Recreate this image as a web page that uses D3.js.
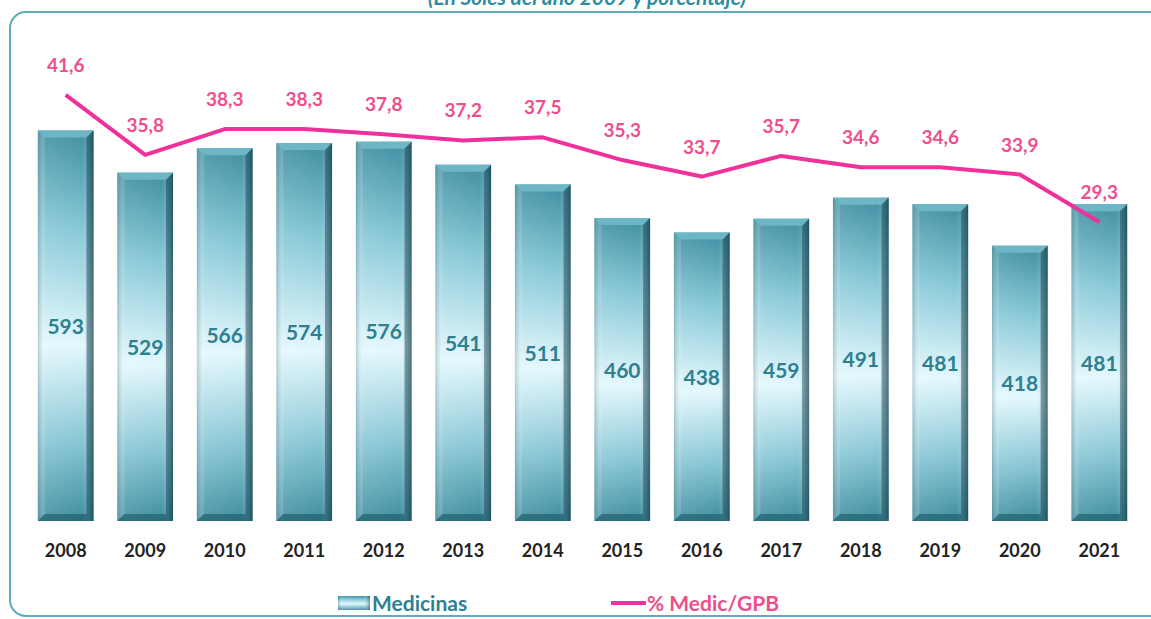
<!DOCTYPE html>
<html>
<head>
<meta charset="utf-8">
<script src="https://cdn.jsdelivr.net/npm/d3@7"></script>
<style>
  body { margin: 0; background: #fff; }
  svg { display: block; }
  .lbl { font-family: Lato, "Open Sans", sans-serif; font-weight: bold; }
</style>
</head>
<body>
<div id="chart"></div>
<script>
"use strict";

// Chart data
const years = ["2008", "2009", "2010", "2011", "2012", "2013", "2014", "2015", "2016", "2017", "2018", "2019", "2020", "2021"];
const medicinas = [593, 529, 566, 574, 576, 541, 511, 460, 438, 459, 491, 481, 418, 481];
const pctMedicGpb = [41.6, 35.8, 38.3, 38.3, 37.8, 37.2, 37.5, 35.3, 33.7, 35.7, 34.6, 34.6, 33.9, 29.3];
const titleText = "(En Soles del año 2009 y porcentaje)";
const legendLabels = ["Medicinas", "% Medic/GPB"];

const width = 1151, height = 619;
const teal = "#2f7f90", pink = "#f0319b", pinkText = "#ee4f8c";

const svg = d3.select("#chart").append("svg")
    .attr("width", width)
    .attr("height", height);

const defs = svg.append("defs");

// vertical gradient for the bar body
const grad = defs.append("linearGradient")
    .attr("id", "barGrad")
    .attr("x1", 0).attr("y1", 0).attr("x2", 0).attr("y2", 1);
grad.append("stop").attr("offset", "0%").attr("stop-color", "#3f8fa1");
grad.append("stop").attr("offset", "25%").attr("stop-color", "#86c8d7");
grad.append("stop").attr("offset", "55%").attr("stop-color", "#e3f8fd");
grad.append("stop").attr("offset", "80%").attr("stop-color", "#86c5d4");
grad.append("stop").attr("offset", "100%").attr("stop-color", "#3f8e9f");

// horizontal shading so the sides look rounded
const side = defs.append("linearGradient")
    .attr("id", "sideGrad")
    .attr("x1", 0).attr("y1", 0).attr("x2", 1).attr("y2", 0);
side.append("stop").attr("offset", "0%").attr("stop-color", "#1d5563").attr("stop-opacity", 0.3);
side.append("stop").attr("offset", "12%").attr("stop-color", "#ffffff").attr("stop-opacity", 0.1);
side.append("stop").attr("offset", "80%").attr("stop-color", "#ffffff").attr("stop-opacity", 0);
side.append("stop").attr("offset", "100%").attr("stop-color", "#0f3b46").attr("stop-opacity", 0.5);

// frame around the plot
svg.append("rect")
    .attr("x", 10).attr("y", 12)
    .attr("width", 1170).attr("height", 604)
    .attr("rx", 16)
    .attr("fill", "#fff")
    .attr("stroke", "#5eabbb")
    .attr("stroke-width", 2);

// title (partly cut off at top, as in the source)
svg.append("text")
    .attr("x", 587).attr("y", 5)
    .attr("text-anchor", "middle")
    .attr("font-family", "Lato, 'Open Sans', sans-serif")
    .attr("font-style", "italic")
    .attr("font-weight", "bold")
    .attr("font-size", 21)
    .attr("fill", "#2f8ca1")
    .text(titleText);

// scales
const x = d3.scaleBand()
    .domain(years)
    .range([14, 1151])
    .padding(0.3);

const y = d3.scaleLinear()
    .domain([0, 650])
    .range([521, 93]);

const y2 = d3.scaleLinear()
    .domain([0, 50])
    .range([524.7, 8.2]);

// bars
const bev = 7;
const bars = svg.append("g").selectAll("g")
    .data(years)
    .join("g")
    .attr("transform", (d, i) => "translate(" + x(d) + "," + y(medicinas[i]) + ")");

bars.each(function (d, i) {
    const g = d3.select(this);
    const w = x.bandwidth();
    const h = y(0) - y(medicinas[i]);
    g.append("rect").attr("width", w).attr("height", h).attr("fill", "url(#barGrad)");
    g.append("rect").attr("width", w).attr("height", h).attr("fill", "url(#sideGrad)");
    // bevel: top
    g.append("polygon")
        .attr("points", [[0, 0], [w, 0], [w - bev, bev], [bev, bev]].join(" "))
        .attr("fill", "#6cb6c6");
    // bevel: left
    g.append("polygon")
        .attr("points", [[0, 0], [bev, bev], [bev, h - bev], [0, h]].join(" "))
        .attr("fill", "#ffffff").attr("fill-opacity", 0.15);
    // bevel: right
    g.append("polygon")
        .attr("points", [[w, 0], [w, h], [w - bev, h - bev], [w - bev, bev]].join(" "))
        .attr("fill", "#103f4b").attr("fill-opacity", 0.45);
    // bevel: bottom
    g.append("polygon")
        .attr("points", [[0, h], [w, h], [w - bev, h - bev], [bev, h - bev]].join(" "))
        .attr("fill", "#1b5664").attr("fill-opacity", 0.6);
});

// bar value labels in the middle of each bar
svg.append("g").selectAll("text")
    .data(years)
    .join("text")
    .attr("class", "lbl")
    .attr("x", (d) => x(d) + x.bandwidth() / 2)
    .attr("y", (d, i) => (y(medicinas[i]) + y(0)) / 2 + 8)
    .attr("text-anchor", "middle")
    .attr("font-size", 21)
    .attr("fill", teal)
    .text((d, i) => medicinas[i]);

// x axis labels
const xAxis = svg.append("g")
    .attr("transform", "translate(0,544)")
    .call(d3.axisBottom(x).tickSize(0).tickPadding(0));
xAxis.select(".domain").remove();
xAxis.selectAll("text")
    .attr("class", "lbl")
    .attr("font-size", 18)
    .attr("fill", "#222");

// percentage line
const line = d3.line()
    .x((d, i) => x(years[i]) + x.bandwidth() / 2)
    .y((d) => y2(d));

svg.append("path")
    .datum(pctMedicGpb)
    .attr("fill", "none")
    .attr("stroke", pink)
    .attr("stroke-width", 4)
    .attr("stroke-linejoin", "round")
    .attr("d", line);

// line value labels
svg.append("g").selectAll("text")
    .data(pctMedicGpb)
    .join("text")
    .attr("class", "lbl")
    .attr("x", (d, i) => x(years[i]) + x.bandwidth() / 2)
    .attr("y", (d) => y2(d) - 23)
    .attr("text-anchor", "middle")
    .attr("font-size", 19)
    .attr("font-weight", 500)
    .attr("fill", pinkText)
    .text((d) => d.toFixed(1).replace(".", ","));

// legend
const leg = svg.append("g");
leg.append("rect")
    .attr("x", 338).attr("y", 596)
    .attr("width", 32).attr("height", 14)
    .attr("fill", "url(#barGrad)");
leg.append("rect")
    .attr("x", 338).attr("y", 596)
    .attr("width", 32).attr("height", 14)
    .attr("fill", "url(#sideGrad)");
leg.append("text")
    .attr("class", "lbl")
    .attr("x", 372).attr("y", 611)
    .attr("font-size", 21)
    .attr("font-weight", 500)
    .attr("fill", teal)
    .text(legendLabels[0]);
leg.append("line")
    .attr("x1", 611).attr("x2", 646)
    .attr("y1", 603).attr("y2", 603)
    .attr("stroke", pink)
    .attr("stroke-width", 4);
leg.append("text")
    .attr("class", "lbl")
    .attr("x", 647).attr("y", 611)
    .attr("font-size", 21)
    .attr("font-weight", 500)
    .attr("fill", pinkText)
    .text(legendLabels[1]);
</script>
</body>
</html>
